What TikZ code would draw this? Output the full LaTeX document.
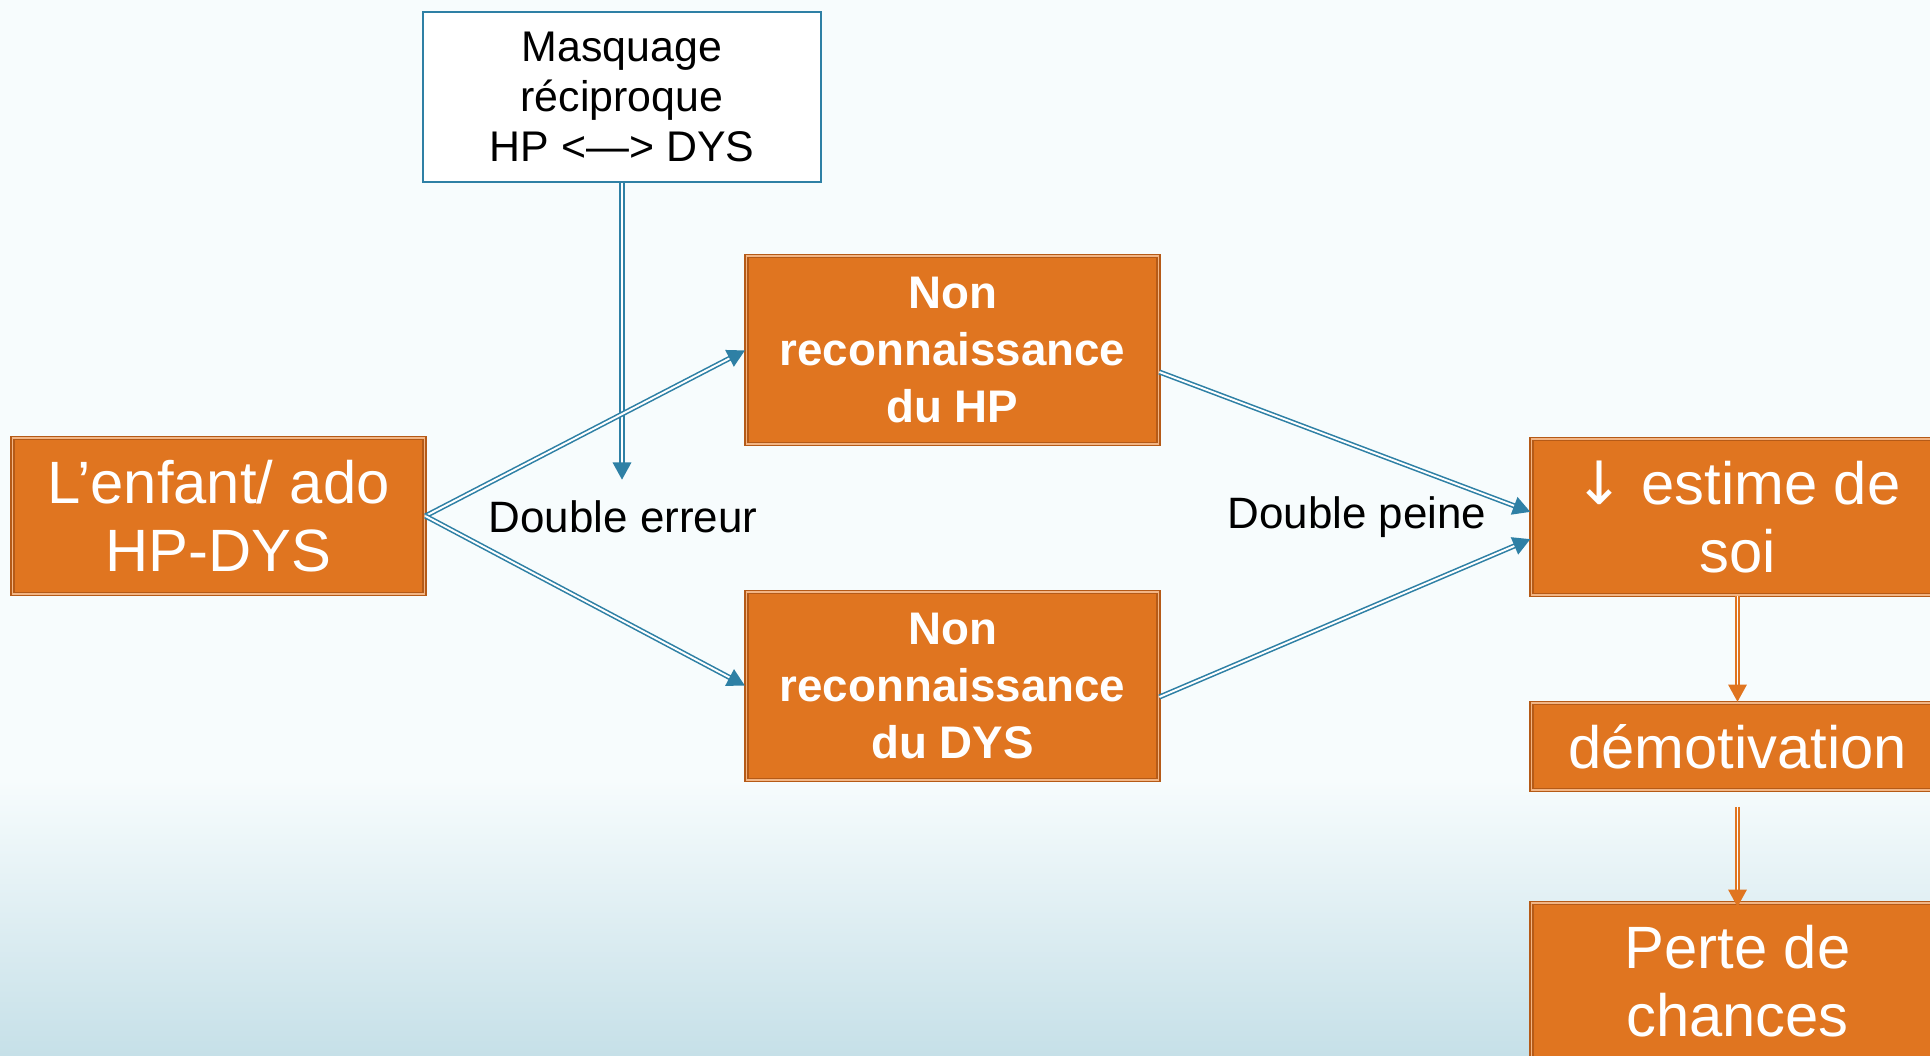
\documentclass[tikz,border=0pt]{standalone}
\usepackage{fontspec}
\setmainfont{Liberation Sans}
\newfontfamily\arrowfont{DejaVu Sans}
\usepackage{xcolor}
\usepackage{tikz}
\usetikzlibrary{arrows.meta, calc, decorations.markings}
\definecolor{boxorange}{HTML}{E07520}
\definecolor{boxedge}{HTML}{B55A17}
\definecolor{boxrim}{HTML}{F2B585}
\definecolor{linkblue}{HTML}{2E80A5}
\definecolor{bgtop}{HTML}{F7FCFD}
\definecolor{bgbot}{HTML}{C6E0E8}

\begin{document}
\begin{tikzpicture}[
box/.style={draw=boxedge, double=boxrim, double distance=0.4pt, line width=0.5pt, fill=boxorange, text=white, align=center, inner sep=0pt, minimum width=4.12cm},
bigtext/.style={font=\fontsize{17pt}{19.4pt}\selectfont},
boldtext/.style={font=\fontsize{13pt}{16.3pt}\selectfont\bfseries},
labeltext/.style={font=\fontsize{12.5pt}{15pt}\selectfont},
link/.style={draw=#1, double=white, double distance=0.55pt, line width=0.45pt, shorten >=4pt,
decoration={markings,% tip on top of the double line
mark=at position 1 with {\arrow[#1]{Triangle[length=5pt,width=5pt]}}},
postaction={decorate}},
link/.default=linkblue
]

\useasboundingbox (0,0) rectangle (19.30,-10.55);
\clip (0,0) rectangle (19.30,-10.55);
\fill[bgtop] (0,0) rectangle (19.30,-10.55);
\shade[top color=bgtop, bottom color=bgbot] (0,-7.8) rectangle (19.30,-10.55);

\node[draw=linkblue, fill=white, line width=0.5pt, align=center, inner sep=0pt, minimum width=3.98cm, minimum height=1.70cm, font=\fontsize{12.2pt}{14.2pt}\selectfont] (mask) at (6.22,-0.97) {Masquage\\réciproque\\HP <—> DYS};

\node[box, bigtext, minimum height=1.56cm] (kid) at (2.185,-5.16) {L’enfant/ ado\\HP-DYS};
\node[box, boldtext, minimum height=1.88cm] (hp) at (9.525,-3.50) {Non\\reconnaissance\\du HP};
\node[box, boldtext, minimum height=1.88cm] (dys) at (9.525,-6.86) {Non\\reconnaissance\\du DYS};
\node[box, bigtext, minimum height=1.56cm] (self) at (17.375,-5.17) {{\arrowfont ↓} estime de\\soi};
\node[box, bigtext, minimum height=0.87cm] (demot) at (17.375,-7.465) {démotivation};
\node[box, bigtext, minimum height=1.56cm] (loss) at (17.375,-9.81) {Perte de\\chances};

\node[labeltext] (err) at (6.23,-5.17) {Double erreur};
\node[labeltext] (pain) at (13.57,-5.17) {Double peine};
\coordinate (errtip) at (6.22,-4.80);

\draw[link] (mask.south) -- (errtip);
\draw[link] (kid.east) -- (hp.west);
\draw[link] (kid.east) -- (dys.west);
\draw[link] ([yshift=-2.2mm]hp.east) -- ([yshift=0.5mm]self.west);
\draw[link] ([yshift=-1.1mm]dys.east) -- ([yshift=-2.2mm]self.west);
\draw[link=boxorange] (self.south) -- (demot.north);
\draw[link=boxorange] ([yshift=-1.6mm]demot.south) -- ([yshift=-0.5mm]loss.north);
\end{tikzpicture}
\end{document}
